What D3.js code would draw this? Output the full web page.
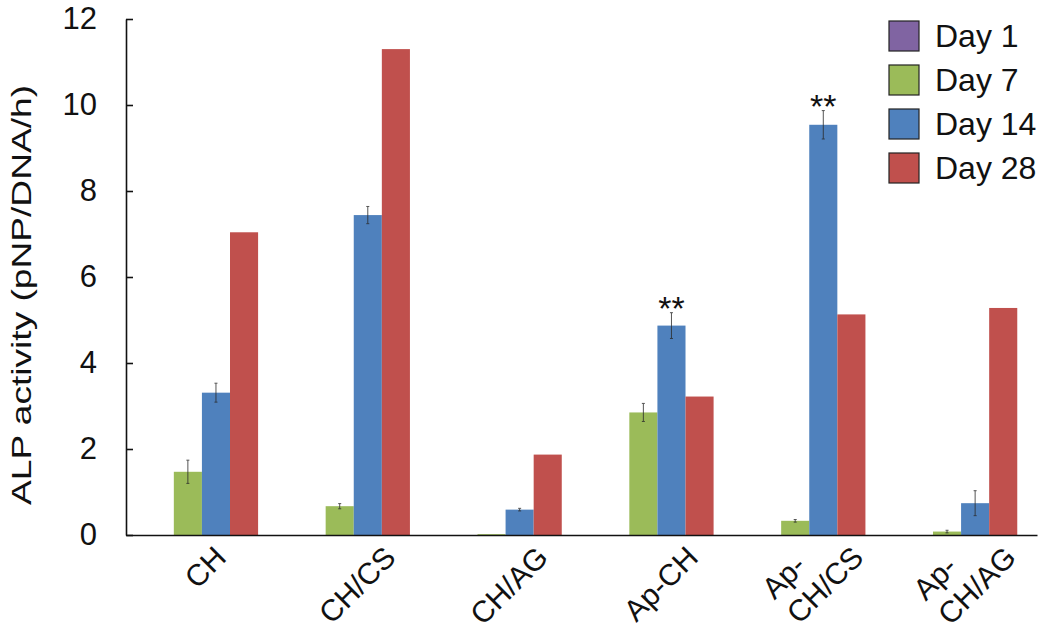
<!DOCTYPE html>
<html lang="en">
<head>
<meta charset="UTF-8">
<title>ALP activity</title>
<script src="https://d3js.org/d3.v7.min.js"></script>
<style>
  body { margin: 0; background: #fff; }
  svg text { font-family: "Liberation Sans", Arial, sans-serif; fill: #111; }
  .axis path, .axis line { stroke: #111; stroke-width: 1.6; }
</style>
</head>
<body>
<div id="chart"></div>
<script>
// data
const groups = ["CH", "CH/CS", "CH/AG", "Ap-CH", "Ap-CH/CS", "Ap-CH/AG"];
const groupLines = [["CH"], ["CH/CS"], ["CH/AG"], ["Ap-CH"], ["Ap-", "CH/CS"], ["Ap-", "CH/AG"]];
const days = ["Day 1", "Day 7", "Day 14", "Day 28"];
const day1 = [0, 0, 0, 0, 0, 0];
const day7 = [1.47, 0.67, 0.02, 2.85, 0.33, 0.08];
const day14 = [3.31, 7.44, 0.59, 4.87, 9.54, 0.74];
const day28 = [7.04, 11.3, 1.87, 3.22, 5.13, 5.28];
const err7 = [0.27, 0.06, 0, 0.21, 0.03, 0.03];
const err14 = [0.22, 0.2, 0.03, 0.3, 0.33, 0.29];
const yTicks = [0, 2, 4, 6, 8, 10, 12];
const starred = ["Ap-CH", "Ap-CH/CS"]; // ** over Day 14

const colors = ["#8064A2", "#9BBB59", "#4F81BD", "#C0504D"];
const values = [day1, day7, day14, day28];
const errors = [null, err7, err14, null];

const W = 1050, H = 633;
const svg = d3.select("#chart").append("svg").attr("width", W).attr("height", H);

const x0 = d3.scaleBand().domain(groups).range([126, 1037]).paddingInner(0.26).paddingOuter(0.13);
const x1 = d3.scaleBand().domain(days).range([0, x0.bandwidth()]);
const y = d3.scaleLinear().domain([0, 12]).range([535, 19]);

// bars
const rows = [];
groups.forEach((g, i) => days.forEach((d, j) => {
    rows.push({ g: g, day: d, v: values[j][i], e: errors[j] ? errors[j][i] : 0, c: colors[j] });
}));

svg.append("g").selectAll("rect")
    .data(rows)
    .join("rect")
    .attr("x", d => x0(d.g) + x1(d.day))
    .attr("y", d => y(d.v))
    .attr("width", x1.bandwidth())
    .attr("height", d => y(0) - y(d.v))
    .attr("fill", d => d.c);

// error bars
const eb = svg.append("g").attr("stroke", "#2b2b2b").attr("stroke-width", 1).attr("opacity", 0.8);
rows.filter(d => d.e > 0).forEach(d => {
    const cx = x0(d.g) + x1(d.day) + x1.bandwidth() / 2;
    const top = y(d.v + d.e), bot = y(Math.max(0, d.v - d.e));
    eb.append("line").attr("x1", cx).attr("x2", cx).attr("y1", top).attr("y2", bot);
    eb.append("line").attr("x1", cx - 1.5).attr("x2", cx + 1.5).attr("y1", top).attr("y2", top);
    eb.append("line").attr("x1", cx - 1.5).attr("x2", cx + 1.5).attr("y1", bot).attr("y2", bot);
});

// significance stars
rows.filter(d => d.day === "Day 14" && starred.includes(d.g)).forEach(d => {
    svg.append("text")
        .attr("x", x0(d.g) + x1(d.day) + x1.bandwidth() / 2)
        .attr("y", y(d.v + d.e) + 7)
        .attr("text-anchor", "middle")
        .style("font-size", "34px")
        .text("**");
});

// y axis
const yAxis = svg.append("g").attr("class", "axis")
    .attr("transform", "translate(126,0)")
    .call(d3.axisLeft(y).tickValues(yTicks).tickSizeInner(-7).tickSizeOuter(0).tickPadding(29));
yAxis.selectAll("text").style("font-size", "31px");

// x axis
svg.append("g").attr("class", "axis")
    .attr("transform", "translate(0,535)")
    .call(d3.axisBottom(x0).tickSize(0).tickFormat(""));

// rotated category labels: left-aligned lines, ink block centred under the group
const labFs = 30, labLh = 35, labAng = 45, cap = 0.72 * labFs;
const ca = Math.cos(labAng * Math.PI / 180), sa = Math.sin(labAng * Math.PI / 180);
const rot = (px, py) => [px * ca + py * sa, -px * sa + py * ca];
groups.forEach((g, i) => {
    const cx = x0(g) + x0.bandwidth() / 2;
    const lab = svg.append("g");
    const t = lab.append("text").attr("transform", `rotate(-${labAng})`).style("font-size", labFs + "px");
    let top = Infinity, left = Infinity, right = -Infinity;
    groupLines[i].forEach((ln, k) => {
        const ts = t.append("tspan").attr("x", 0).attr("y", k * labLh).text(ln);
        const L = ts.node().getComputedTextLength();
        const yb = k * labLh;
        top = Math.min(top, rot(L, yb - cap)[1]);
        left = Math.min(left, rot(0, yb - cap)[0]);
        right = Math.max(right, rot(L, yb)[0]);
    });
    lab.attr("transform", `translate(${cx + 3 - (left + right) / 2},${544 - top})`);
});

// y axis title
svg.append("text")
    .attr("transform", "translate(31,295) rotate(-90)")
    .attr("text-anchor", "middle")
    .attr("textLength", 420)
    .attr("lengthAdjust", "spacingAndGlyphs")
    .style("font-size", "28px")
    .text("ALP activity (pNP/DNA/h)");

// legend
const legend = svg.append("g").attr("transform", "translate(889,21)");
days.forEach((d, j) => {
    const row = legend.append("g").attr("transform", `translate(0,${j * 44})`);
    row.append("rect").attr("width", 30).attr("height", 30)
        .attr("fill", colors[j]).attr("stroke", "#222").attr("stroke-width", 1.2);
    row.append("text").attr("x", 46).attr("y", 26).style("font-size", "32px").text(d);
});
</script>
</body>
</html>
